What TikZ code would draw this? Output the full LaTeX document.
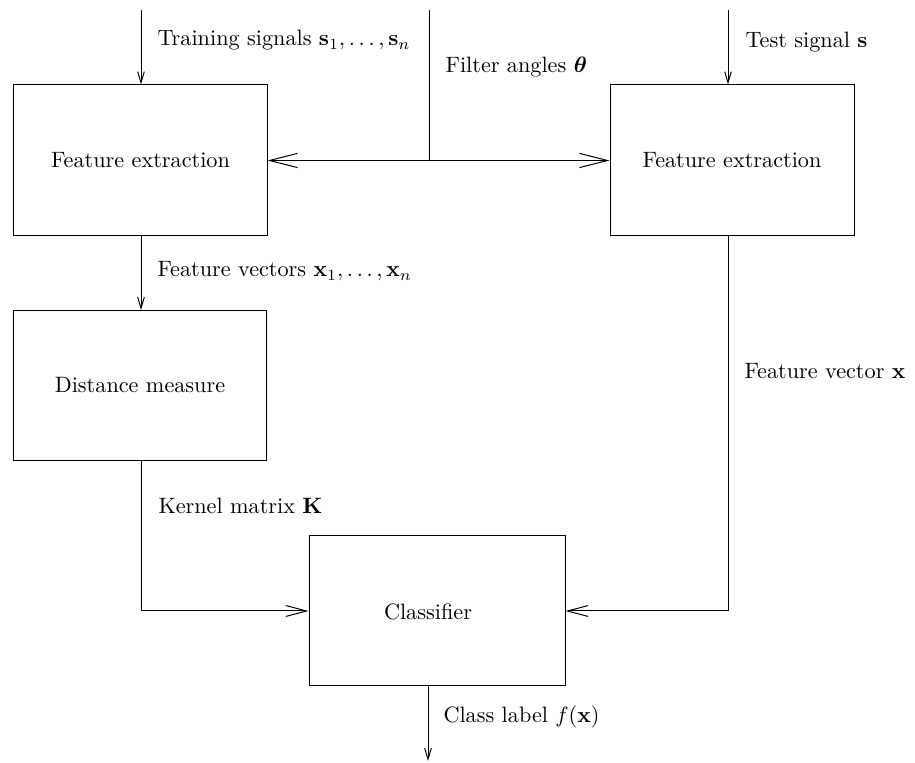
\documentclass[tikz,border=0pt]{standalone}
\usepackage{amsmath}
\usetikzlibrary{arrows.meta}
\begin{document}
\begin{tikzpicture}[x=0.45pt,y=-0.45pt,
  line width=0.45pt,
  blk/.style={draw, inner sep=0pt, rectangle},
  lbl/.style={anchor=base west, inner sep=0pt},
  vtip/.style={-{Straight Barb[length=5pt,width=3pt]}},
  htipm/.style={-{Straight Barb[length=9.3pt,width=4.9pt]}},
  htipb/.style={-{Straight Barb[length=12.6pt,width=6.4pt]}}]
\useasboundingbox (0,0) rectangle (915,763);

% boxes
\node[blk, minimum width=113.85pt, minimum height=67.95pt] (feL) at (140.5,160.5) {Feature extraction};
\node[blk, minimum width=109.8pt, minimum height=67.95pt] (feR) at (732,160.5) {Feature extraction};
\node[blk, minimum width=113.4pt, minimum height=67.5pt] (dm) at (140,385.5) {Distance measure};
\node[blk, minimum width=115.2pt, minimum height=67.5pt] (cls) at (437,611) {};
\node[inner sep=0pt] (clst) at (428,612) {Classifier};

% free ends
\coordinate (inTrain) at (141,10);
\coordinate (inFilt) at (429,10);
\coordinate (inTest) at (728,10);
\coordinate (outC) at (428,761);

% connectors
\draw[vtip] (inTrain) -- (inTrain |- feL.north);
\draw[vtip] (inTest) -- (inTest |- feR.north);
\draw (inFilt) -- (inFilt |- feL.east);
\draw[htipb] (inFilt |- feL.east) -- (feL.east);
\draw[htipb] (inFilt |- feR.west) -- (feR.west);
\draw[vtip] (inTrain |- feL.south) -- (inTrain |- dm.north);
\draw[htipm] (inTrain |- dm.south) |- (cls.west);
\draw[htipm] (inTest |- feR.south) |- (cls.east);
\draw[vtip] (outC |- cls.south) -- (outC);

% labels
\node[lbl] (l1) at (157,46) {Training signals $\mathbf{s}_1,\ldots,\mathbf{s}_n$};
\node[lbl] (l2) at (445,73) {Filter angles $\boldsymbol{\theta}$};
\node[lbl] (l3) at (745,48) {Test signal $\mathbf{s}$};
\node[lbl] (l4) at (157,277) {Feature vectors $\mathbf{x}_1,\ldots,\mathbf{x}_n$};
\node[lbl] (l5) at (744,379) {Feature vector $\mathbf{x}$};
\node[lbl] (l6) at (158,514) {Kernel matrix $\mathbf{K}$};
\node[lbl] (l7) at (443,723) {Class label $f(\mathbf{x})$};
\end{tikzpicture}
\end{document}
